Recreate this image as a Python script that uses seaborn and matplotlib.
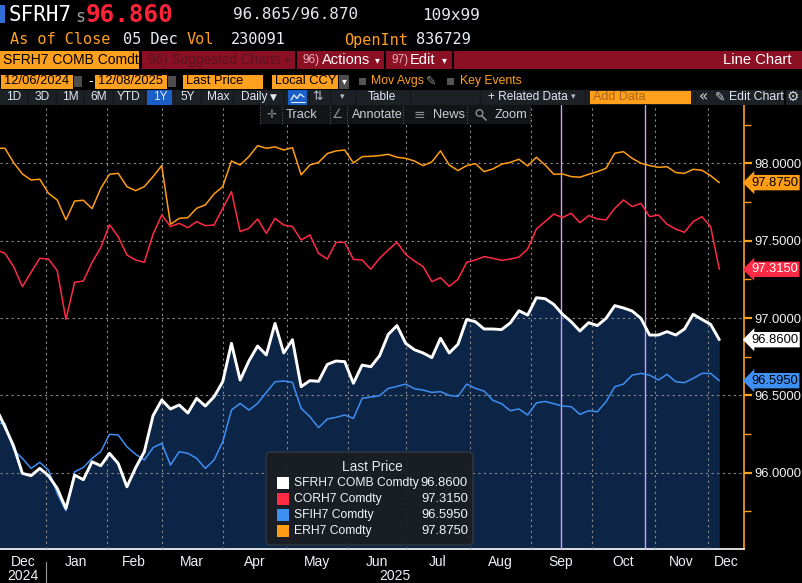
import numpy as np
import pandas as pd
import seaborn as sns
import matplotlib.pyplot as plt
from matplotlib.patches import Rectangle, FancyBboxPatch, Circle
from matplotlib.lines import Line2D
from matplotlib.ticker import MultipleLocator, StrMethodFormatter
from pandas.tseries.holiday import USFederalHolidayCalendar

# last price, one value every third trading day, 06 Dec 2024 -> 05 Dec 2025
sfrh7 = [96.416, 96.297, 96.172, 95.996, 95.981, 96.028, 95.981, 95.899, 95.769, 95.985,
         95.955, 96.071, 96.045, 96.125, 96.060, 95.909, 96.032, 96.136, 96.369, 96.470,
         96.412, 96.438, 96.386, 96.481, 96.431, 96.491, 96.588, 96.836, 96.599, 96.722,
         96.819, 96.761, 96.965, 96.774, 96.860, 96.556, 96.595, 96.591, 96.700, 96.722,
         96.718, 96.578, 96.696, 96.685, 96.756, 96.894, 96.951, 96.836, 96.795, 96.774,
         96.744, 96.869, 96.774, 96.830, 96.991, 96.976, 96.929, 96.929, 96.925, 96.968,
         97.047, 97.019, 97.131, 97.125, 97.088, 97.024, 96.976, 96.916, 96.970, 96.951,
         96.998, 97.080, 97.065, 97.045, 96.998, 96.890, 96.890, 96.912, 96.890, 96.929,
         97.024, 96.991, 96.959, 96.860]
corh7 = [97.440, 97.418, 97.332, 97.203, 97.295, 97.386, 97.381, 97.306, 96.991, 97.231,
         97.239, 97.360, 97.455, 97.603, 97.526, 97.407, 97.375, 97.360, 97.541, 97.666,
         97.591, 97.612, 97.584, 97.623, 97.597, 97.601, 97.709, 97.817, 97.558, 97.580,
         97.640, 97.547, 97.644, 97.601, 97.591, 97.504, 97.537, 97.418, 97.381, 97.489,
         97.489, 97.379, 97.375, 97.315, 97.386, 97.440, 97.489, 97.411, 97.369, 97.332,
         97.235, 97.261, 97.205, 97.250, 97.360, 97.375, 97.397, 97.386, 97.373, 97.381,
         97.394, 97.446, 97.575, 97.623, 97.672, 97.649, 97.677, 97.616, 97.662, 97.640,
         97.634, 97.709, 97.763, 97.720, 97.741, 97.655, 97.666, 97.606, 97.575, 97.554,
         97.623, 97.655, 97.591, 97.315]
sfih7 = [96.319, 96.319, 96.147, 96.093, 96.028, 96.067, 96.017, 95.866, 95.754, 96.006,
         96.034, 96.093, 96.136, 96.248, 96.244, 96.168, 96.119, 96.082, 96.162, 96.190,
         96.050, 96.136, 96.125, 96.093, 96.028, 96.082, 96.200, 96.405, 96.448, 96.405,
         96.448, 96.519, 96.588, 96.593, 96.584, 96.416, 96.362, 96.291, 96.347, 96.358,
         96.373, 96.351, 96.481, 96.489, 96.498, 96.545, 96.558, 96.573, 96.543, 96.534,
         96.519, 96.524, 96.500, 96.493, 96.573, 96.545, 96.528, 96.468, 96.446, 96.401,
         96.412, 96.373, 96.451, 96.461, 96.446, 96.431, 96.427, 96.377, 96.401, 96.394,
         96.459, 96.556, 96.573, 96.631, 96.642, 96.631, 96.599, 96.636, 96.588, 96.582,
         96.610, 96.642, 96.642, 96.595]
erh7 = [98.097, 98.097, 98.004, 97.931, 97.892, 97.897, 97.806, 97.763, 97.634, 97.756,
        97.761, 97.707, 97.838, 97.929, 97.935, 97.849, 97.823, 97.849, 97.914, 97.985,
        97.606, 97.644, 97.649, 97.709, 97.731, 97.802, 97.849, 98.015, 97.989, 98.043,
        98.114, 98.097, 98.106, 98.086, 98.101, 97.925, 97.989, 98.006, 98.063, 98.080,
        98.086, 98.002, 98.043, 98.045, 98.050, 98.058, 98.039, 98.032, 98.015, 97.985,
        98.009, 98.080, 97.989, 97.953, 97.985, 97.998, 97.946, 97.963, 97.994, 98.006,
        98.026, 97.983, 98.039, 97.989, 97.929, 97.931, 97.914, 97.910, 97.929, 97.946,
        97.968, 98.065, 98.075, 98.032, 98.000, 97.985, 97.974, 97.978, 97.940, 97.935,
        97.961, 97.955, 97.920, 97.875]

names = ['SFRH7 COMB Comdty', 'CORH7 Comdty', 'SFIH7 Comdty', 'ERH7 Comdty']
series = [sfrh7, corh7, sfih7, erh7]
colors = ['#ffffff', '#ff2a44', '#3d8ff2', '#ff9d14']
label_text = ['black', 'white', 'black', 'black']
fomc = ['2025-09-17', '2025-10-29']   # key events
yticks = [96.0, 96.5, 97.0, 97.5, 98.0]

bday = pd.offsets.CustomBusinessDay(calendar=USFederalHolidayCalendar())
days = pd.date_range('2024-12-06', '2025-12-05', freq=bday)
pos = np.arange(len(sfrh7)) * 3

W, H = 803, 583
SANS = ['Liberation Sans', 'DejaVu Sans']
MONO = ['DejaVu Sans Mono', 'DejaVu Sans']
SYM = ['DejaVu Sans']
ORANGE = '#ffa01e'

sns.set_theme(style="dark")
plt.rcParams['font.family'] = SANS

fig = plt.figure(figsize=(W / 100, H / 100), dpi=100, facecolor='black')
ax = fig.add_axes([0, (H - 549) / H, 744 / W, (549 - 104.5) / H])
ax.set_facecolor('black')

ax.fill_between(pos, sfrh7, 95.0, color='#0c2446', lw=0, zorder=1)
for vals, col in zip(series[::-1], colors[::-1]):
    lw = 2.1 if col == '#ffffff' else 1.1
    sns.lineplot(x=pos, y=vals, color=col, lw=lw, estimator=None, ax=ax, zorder=4)

for d in days.get_indexer(pd.to_datetime(fomc)):
    ax.axvline(d - 0.5, color='#c9a2ff', lw=1, zorder=3)

ax.set_xlim(1.3, 257.5)
ax.set_ylim(95.507, 98.380)

# month boundaries and labels
months = days.to_period('M')
starts = np.flatnonzero(months[1:] != months[:-1]) + 1
edges = [ax.get_xlim()[0]] + list(starts) + [ax.get_xlim()[1]]
mids = [(a + b) / 2 for a, b in zip(edges[:-1], edges[1:])]
mnames = [days[0].strftime('%b')] + [days[i].strftime('%b') for i in starts]
ax.set_xticks(starts)
ax.set_xticklabels([])
ax.set_xticks(mids, minor=True)
ax.set_xticklabels(mnames, minor=True)
ax.tick_params(axis='x', which='major', length=4, width=1, color='white', direction='out')
ax.tick_params(axis='x', which='minor', length=0, pad=4, labelsize=10, labelcolor='#eef2f8')

ax.set_yticks(yticks)
ax.yaxis.set_minor_locator(MultipleLocator(0.25))
ax.yaxis.set_major_formatter(StrMethodFormatter('{x:.4f}'))
ax.yaxis.tick_right()
ax.tick_params(axis='y', which='major', length=6, width=1.6, color=ORANGE, pad=1.5,
               labelsize=9.4, labelcolor='#f2f2f2', left=False)
ax.tick_params(axis='y', which='minor', length=5, width=1.0, color=ORANGE, left=False)

ax.grid(True, which='major', color='#8c8c8c', ls=(0, (2, 3)), lw=0.8)
ax.set_axisbelow(False)
for s in ['left', 'top']:
    ax.spines[s].set_visible(False)
ax.spines['bottom'].set_color('white')
ax.spines['bottom'].set_linewidth(1.2)
ax.spines['right'].set_color(ORANGE)
ax.spines['right'].set_linewidth(1.2)
ax.set_xlabel('')
ax.set_ylabel('')

# year row
ax.text(mids[0], -0.061, str(days[0].year), transform=ax.get_xaxis_transform(),
        ha='center', va='center', fontsize=10, color='#eef2f8')
ax.text((starts[0] + ax.get_xlim()[1]) / 2, -0.061, str(days[-1].year),
        transform=ax.get_xaxis_transform(), ha='center', va='center', fontsize=10, color='#eef2f8')
ax.add_line(Line2D([starts[0], starts[0]], [-0.03, -0.08], transform=ax.get_xaxis_transform(),
                   color='#9a9a9a', lw=0.8, clip_on=False))

# last price tags on the axis
for vals, col, tc in zip(series, colors, label_text):
    ax.annotate(f'{vals[-1]:.4f}', xy=(1, vals[-1]), xycoords=ax.get_yaxis_transform(),
                xytext=(5, 0), textcoords='offset points', ha='left', va='center',
                fontsize=9.4, color=tc, annotation_clip=False,
                bbox=dict(boxstyle='larrow,pad=0.13', fc=col, ec='none'))


# ---------- terminal header ----------
def fx(x):
    return x / W


def fy(y):
    return 1 - y / H


def rect(x0, y0, x1, y1, color, **kw):
    fig.add_artist(Rectangle((fx(x0), fy(y1)), (x1 - x0) / W, (y1 - y0) / H,
                             transform=fig.transFigure, facecolor=color, edgecolor='none', **kw))


def txt(x, y, s, size=10, color='#e2e9f2', ha='left', fam=SANS, **kw):
    fig.text(fx(x), fy(y), s, fontsize=size, color=color, ha=ha, va='center', family=fam, **kw)


def vline(x, y0, y1, color, lw=1, ls='-'):
    fig.add_artist(Line2D([fx(x), fx(x)], [fy(y0), fy(y1)], transform=fig.transFigure,
                          color=color, lw=lw, ls=ls))


# row 1
rect(0, 5, 5, 23, '#2f6fd6')
txt(9, 15, 'SFRH7', 15, 'white', fam=MONO)
txt(75, 17, 's', 12, '#9c9c9c', fam=MONO)
txt(86, 15, '96.860', 17.5, '#ff2238', fam=MONO, weight='bold')
txt(233, 15, '96.865/96.870', 11.5, '#e4e8ee', fam=MONO)
txt(422, 15, '109x99', 11.5, '#e4e8ee', fam=MONO)
# row 2
for x, s, c in [(10, 'As of Close', ORANGE), (123, '05 Dec', '#e8edf7'), (187, 'Vol', ORANGE),
                (231, '230091', '#e8edf7'), (344, 'OpenInt', ORANGE), (416, '836729', '#e8edf7')]:
    txt(x, 40, s, 11, c, fam=MONO)

# row 3
rect(0, 51, 139, 69, ORANGE)
txt(3, 60, 'SFRH7 COMB Comdt', 10, 'black')
rect(141, 51, 803, 69, '#8c1024')
txt(148, 60, '96) Suggested Charts', 9.8, '#5a1420')
txt(285, 60, '\u25be', 7, '#5a1420', fam=SYM)
txt(303, 60, '96)', 8.5, '#e8b1ba')
txt(322, 60, 'Actions', 10.5, 'white')
txt(375, 60, '\u25be', 7, 'white', fam=SYM)
txt(392, 60, '97)', 8.5, '#e8b1ba')
txt(410, 60, 'Edit', 10.5, 'white')
txt(442, 60, '\u25be', 7, 'white', fam=SYM)
txt(792, 60, 'Line Chart', 10.6, 'white', ha='right')
for x in [141, 296, 385, 453]:
    vline(x, 51, 69, 'black', 1.5)

# row 4
for x0, x1, s in [(1, 73, '12/06/2024'), (95, 167, '12/08/2025'), (183, 263, 'Last Price'),
                  (272, 338, 'Local CCY')]:
    rect(x0, 74.5, x1, 88.5, ORANGE)
    txt(x0 + 3, 81.5, s, 9.3, 'black')
for x0 in [74, 168]:
    rect(x0, 76, x0 + 8, 87, '#4d4d4d')
rect(339, 74.5, 349, 88.5, '#4d4d4d')
txt(344, 81.5, '\u25be', 7, 'white', ha='center', fam=SYM)
txt(88, 81.5, '-', 10, 'white')
rect(359, 78, 366, 85, '#555555')
txt(371, 81.5, 'Mov Avgs', 8.8, ORANGE)
txt(426, 81.5, '\u270e', 9, '#8a8a8a', fam=SYM)
rect(447, 78, 454, 85, '#555555')
txt(460, 81.5, 'Key Events', 8.8, ORANGE)

# row 5
rect(0, 89.7, 803, 104.5, '#1d2126')
rect(147, 89.7, 172, 104.5, '#1a5fc8')
rect(288, 89.7, 307, 104.5, '#1a5fc8')
for x in [28, 56, 84, 113, 145, 174, 201, 233, 283, 309, 330, 355, 410, 480, 585, 695]:
    vline(x, 89.7, 104.5, '#15181b', 1.0)
for x, s in [(14, '1D'), (42, '3D'), (70, '1M'), (99, '6M'), (129, 'YTD'), (160, '1Y'),
             (187.5, '5Y'), (218, 'Max'), (382, 'Table')]:
    txt(x, 97, s, 8.6, '#dfe7f1', ha='center')
txt(241, 97, 'Daily', 8.6, '#dfe7f1')
txt(270, 97, '\u25bc', 6.5, '#dfe7f1', fam=SYM)
fig.add_artist(Line2D([fx(v) for v in [291, 294, 297, 300, 304]],
                      [fy(v) for v in [100, 95, 98.5, 94, 97]],
                      transform=fig.transFigure, color='#dfe7f1', lw=1))
fig.add_artist(Line2D([fx(291), fx(305)], [fy(101.5), fy(101.5)],
                      transform=fig.transFigure, color='#dfe7f1', lw=0.8))
txt(318, 97, '\u21c5', 9, '#b5bcc6', ha='center', fam=SYM)
txt(342, 97, '\u25be', 6.5, '#b5bcc6', ha='center', fam=SYM)
txt(488, 97, '+ Related Data', 8.6, '#dfe7f1')
txt(573, 97, '\u25be', 6.5, '#b5bcc6', ha='center', fam=SYM)
rect(590, 90.5, 691, 103.5, '#ff9f1a')
txt(593, 97, 'Add Data', 9, '#a9661d')
txt(704, 97, '\u00ab', 11, '#cfd6df', ha='center', fam=SYM)
txt(715, 97, '\u270e', 9, '#cfd6df', fam=SYM)
txt(729, 97, 'Edit Chart', 8.8, '#dfe7f1')
vline(785, 89.7, 104.5, '#000000', 1.2)
txt(793, 97, '\u2699', 10, '#cfd6df', ha='center', fam=SYM)

# row 6 chart toolbar
rect(260, 105.5, 530, 124, '#121416')
for x in [260, 282, 330, 347, 403, 467, 530]:
    vline(x, 105.5, 124, '#555a60', 0.8, ls=(0, (1, 1.5)))
txt(271, 115, '\u271b', 8.5, '#8b9098', ha='center', fam=SYM)
txt(286, 115, 'Track', 9.3, '#c9d1dc')
txt(338, 115, '\u2220', 9, '#8b9098', ha='center', fam=SYM)
txt(352, 115, 'Annotate', 9.1, '#c9d1dc')
txt(419, 115, '\u2261', 10, '#8b9098', ha='center', fam=SYM)
txt(433, 115, 'News', 9.3, '#c9d1dc')
fig.add_artist(Circle((479.5 / 100, (H - 113) / 100), 0.033, transform=fig.dpi_scale_trans,
                      fill=False, ec='#8b9098', lw=1))
fig.add_artist(Line2D([fx(482), fx(486)], [fy(116), fy(120)], transform=fig.transFigure,
                      color='#8b9098', lw=1.2))
txt(495, 115, 'Zoom', 9.3, '#c9d1dc')

# ---------- legend panel ----------
fig.add_artist(FancyBboxPatch((fx(266), fy(545)), 207 / W, 93 / H,
                              boxstyle='round,pad=0,rounding_size=0.006',
                              transform=fig.transFigure, fc='#1b1e22', ec='#3c4046',
                              lw=0.8, alpha=0.93))
txt(372, 467, 'Last Price', 9.8, '#e4e9f1', ha='center')
for i, (nm, vals, col) in enumerate(zip(names, series, colors)):
    yy = 483 + i * 16
    rect(277, yy - 6, 289, yy + 6, col)
    txt(294, yy, nm, 8.7, '#f1f4f8')
    txt(468, yy, f'{vals[-1]:.4f}', 9.4, '#f1f4f8', ha='right')

fig.savefig('out.png', dpi=100, facecolor='black')
